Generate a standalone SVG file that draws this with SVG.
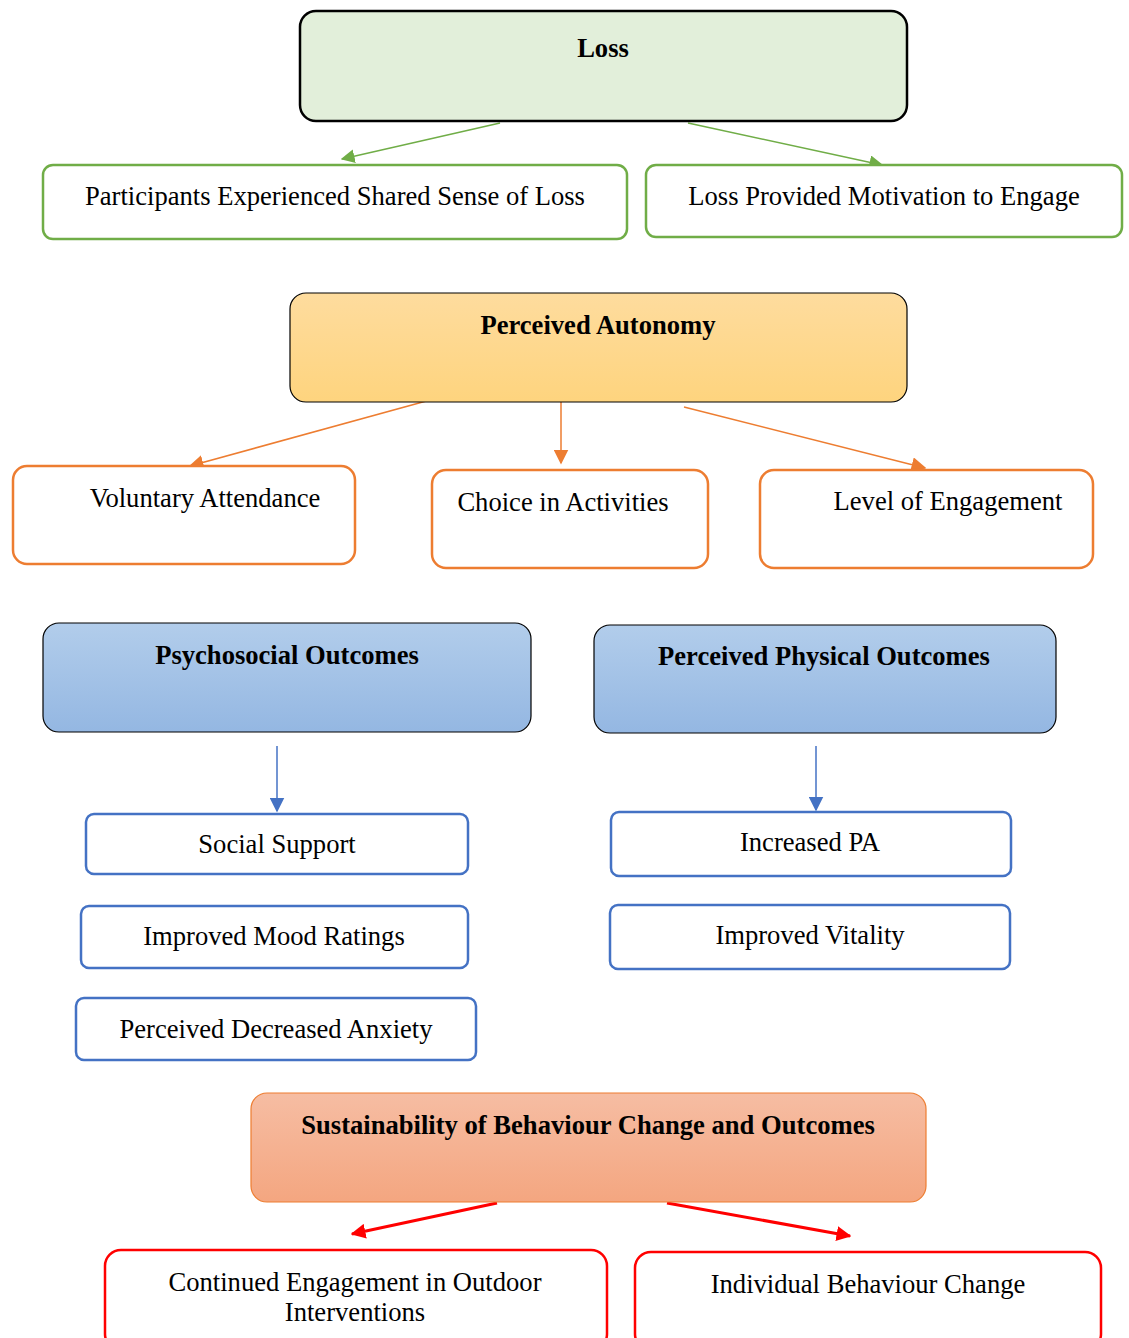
<svg xmlns="http://www.w3.org/2000/svg" width="1129" height="1338" viewBox="0 0 1129 1338">
  <style>
    text { font-family: "Liberation Serif", "Times New Roman", serif; font-size: 26.6px; fill: #000; text-anchor: middle; }
    .head { font-weight: bold; }
    .green { fill: #fff; stroke: #70ad47; stroke-width: 2.5; }
    .orange { fill: #fff; stroke: #ed7d31; stroke-width: 2.5; }
    .blue { fill: #fff; stroke: #4472c4; stroke-width: 2.5; }
    .red { fill: #fff; stroke: #ff0000; stroke-width: 2.5; }
    .c-green { stroke: #70ad47; stroke-width: 1.5; fill: none; }
    .c-orange { stroke: #ed7d31; stroke-width: 1.5; fill: none; }
    .c-blue { stroke: #4472c4; stroke-width: 1.5; fill: none; }
    .c-red { stroke: #ff0000; stroke-width: 3; fill: none; }
  </style>
  <defs>
    <linearGradient id="gOrange" x1="0" y1="0" x2="0" y2="1">
      <stop offset="0" stop-color="#fedc9e"/>
      <stop offset="1" stop-color="#fed47e"/>
    </linearGradient>
    <linearGradient id="gBlue" x1="0" y1="0" x2="0" y2="1">
      <stop offset="0" stop-color="#b2cdeb"/>
      <stop offset="1" stop-color="#94b7e2"/>
    </linearGradient>
    <linearGradient id="gSalmon" x1="0" y1="0" x2="0" y2="1">
      <stop offset="0" stop-color="#f6bda3"/>
      <stop offset="1" stop-color="#f4a680"/>
    </linearGradient>
    <marker id="aGreen" viewBox="0 0 10 10" refX="9" refY="5" markerWidth="14" markerHeight="14" markerUnits="userSpaceOnUse" orient="auto">
      <path d="M0,0 L10,5 L0,10 z" fill="#70ad47"/>
    </marker>
    <marker id="aOrange" viewBox="0 0 10 10" refX="9" refY="5" markerWidth="15" markerHeight="15" markerUnits="userSpaceOnUse" orient="auto">
      <path d="M0,0 L10,5 L0,10 z" fill="#ed7d31"/>
    </marker>
    <marker id="aBlue" viewBox="0 0 10 10" refX="9" refY="5" markerWidth="15" markerHeight="15" markerUnits="userSpaceOnUse" orient="auto">
      <path d="M0,0 L10,5 L0,10 z" fill="#4472c4"/>
    </marker>
    <marker id="aRed" viewBox="0 0 10 10" refX="9" refY="5" markerWidth="15" markerHeight="15" markerUnits="userSpaceOnUse" orient="auto">
      <path d="M0,0 L10,5 L0,10 z" fill="#ff0000"/>
    </marker>
  </defs>

  <!-- connectors -->
  <g id="connectors">
    <line class="c-green" x1="500" y1="123" x2="342" y2="159" marker-end="url(#aGreen)"/>
    <line class="c-green" x1="688" y1="123" x2="882" y2="165" marker-end="url(#aGreen)"/>
    <line class="c-orange" x1="430" y1="400" x2="190" y2="466" marker-end="url(#aOrange)"/>
    <line class="c-orange" x1="561" y1="399" x2="561" y2="463" marker-end="url(#aOrange)"/>
    <line class="c-orange" x1="684" y1="407" x2="925" y2="468" marker-end="url(#aOrange)"/>
    <line class="c-blue" x1="277" y1="746" x2="277" y2="811" marker-end="url(#aBlue)"/>
    <line class="c-blue" x1="816" y1="746" x2="816" y2="810" marker-end="url(#aBlue)"/>
    <line class="c-red" x1="497" y1="1203" x2="352" y2="1234" marker-end="url(#aRed)"/>
    <line class="c-red" x1="667" y1="1203" x2="850" y2="1236" marker-end="url(#aRed)"/>
  </g>

  <!-- Loss -->
  <g id="loss">
    <rect x="300" y="11" width="607" height="110" rx="16" fill="#e2efda" stroke="#000" stroke-width="2.5"/>
    <text class="head" x="603" y="57">Loss</text>
  </g>
  <g id="shared-loss">
    <rect class="green" x="43" y="165" width="584" height="74" rx="10"/>
    <text x="335" y="205">Participants Experienced Shared Sense of Loss</text>
  </g>
  <g id="loss-motivation">
    <rect class="green" x="646" y="165" width="476" height="72" rx="10"/>
    <text x="884" y="205">Loss Provided Motivation to Engage</text>
  </g>

  <!-- Perceived Autonomy -->
  <g id="autonomy">
    <rect x="290" y="293" width="617" height="109" rx="16" fill="url(#gOrange)" stroke="#000" stroke-width="1.2"/>
    <text class="head" x="598" y="334">Perceived Autonomy</text>
  </g>
  <g id="voluntary-attendance">
    <rect class="orange" x="13" y="466" width="342" height="98" rx="14"/>
    <text x="205" y="507">Voluntary Attendance</text>
  </g>
  <g id="choice-activities">
    <rect class="orange" x="432" y="470" width="276" height="98" rx="14"/>
    <text x="563" y="511">Choice in Activities</text>
  </g>
  <g id="engagement-level">
    <rect class="orange" x="760" y="470" width="333" height="98" rx="14"/>
    <text x="948" y="510">Level of Engagement</text>
  </g>

  <!-- Outcomes -->
  <g id="psychosocial">
    <rect x="43" y="623" width="488" height="109" rx="16" fill="url(#gBlue)" stroke="#000" stroke-width="1.2"/>
    <text class="head" x="287" y="664">Psychosocial Outcomes</text>
  </g>
  <g id="physical">
    <rect x="594" y="625" width="462" height="108" rx="16" fill="url(#gBlue)" stroke="#000" stroke-width="1.2"/>
    <text class="head" x="824" y="665">Perceived Physical Outcomes</text>
  </g>
  <g id="social-support">
    <rect class="blue" x="86" y="814" width="382" height="60" rx="8"/>
    <text x="277" y="853">Social Support</text>
  </g>
  <g id="mood-ratings">
    <rect class="blue" x="81" y="906" width="387" height="62" rx="8"/>
    <text x="274" y="945">Improved Mood Ratings</text>
  </g>
  <g id="decreased-anxiety">
    <rect class="blue" x="76" y="998" width="400" height="62" rx="8"/>
    <text x="276" y="1038">Perceived Decreased Anxiety</text>
  </g>
  <g id="increased-pa">
    <rect class="blue" x="611" y="812" width="400" height="64" rx="8"/>
    <text x="810" y="851">Increased PA</text>
  </g>
  <g id="vitality">
    <rect class="blue" x="610" y="905" width="400" height="64" rx="8"/>
    <text x="810" y="944">Improved Vitality</text>
  </g>

  <!-- Sustainability -->
  <g id="sustainability">
    <rect x="251" y="1093" width="675" height="109" rx="16" fill="url(#gSalmon)" stroke="#ed7d31" stroke-width="1.2"/>
    <text class="head" x="588" y="1134">Sustainability of Behaviour Change and Outcomes</text>
  </g>
  <g id="continued-engagement">
    <rect class="red" x="105" y="1250" width="502" height="100" rx="16"/>
    <text x="355" y="1291">Continued Engagement in Outdoor</text>
    <text x="355" y="1321">Interventions</text>
  </g>
  <g id="behaviour-change">
    <rect class="red" x="635" y="1252" width="466" height="98" rx="16"/>
    <text x="868" y="1293">Individual Behaviour Change</text>
  </g>
</svg>
